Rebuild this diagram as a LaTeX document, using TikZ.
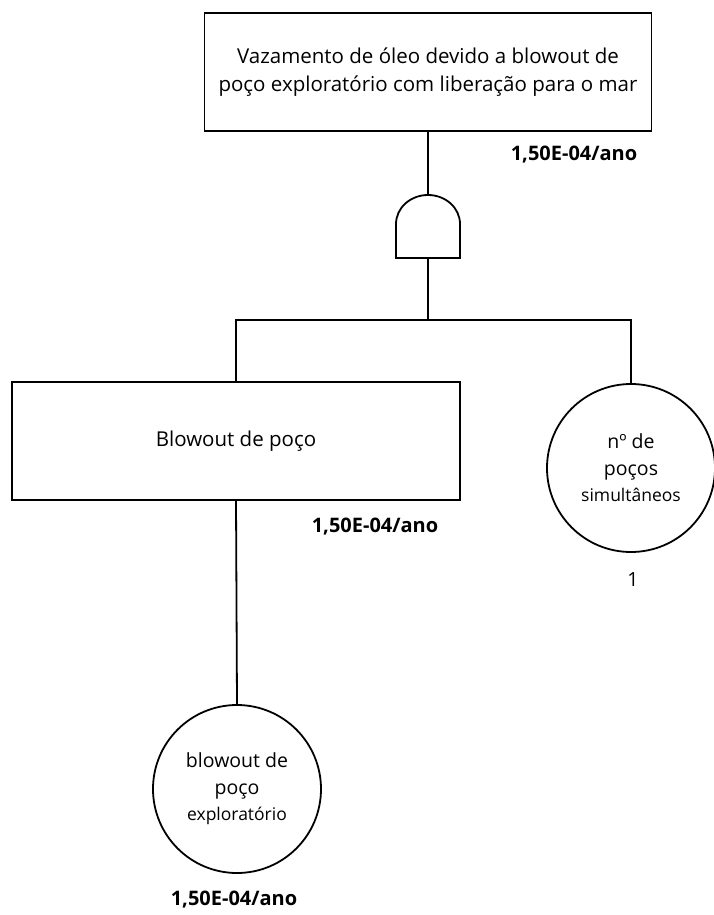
\documentclass[tikz,border=0pt]{standalone}
\usepackage{fontspec}
\setmainfont{Open Sans}
\usetikzlibrary{positioning}
\tikzset{%
  event/.style = {shape=rectangle, draw, align=center,%
                  minimum width=447pt, minimum height=118pt, inner sep=0pt,%
                  font=\fontsize{20.5}{28}\selectfont},%
  basic/.style = {shape=circle, draw, align=center,%
                  minimum size=168pt, inner sep=0pt,%
                  font=\fontsize{19.5}{26.5}\selectfont},%
  prob/.style  = {font=\fontsize{20}{22}\selectfont\bfseries}%
}
\newcommand{\smalltxt}[1]{{\fontsize{17.5}{26.5}\selectfont #1}}

\begin{document}
\begin{tikzpicture}[x=1pt,y=-1pt,line width=1.8pt]
	\useasboundingbox (0,0) rectangle (714,915);
	% top event
	\node [event] (spill) at (428,72) {Vazamento de óleo devido a blowout de\\
		poço exploratório com liberação para o mar};
	\node [prob] (pspill) at (574,155) {1,50E-04/ano};
	% AND gate
	\coordinate (gtop) at (428,195);
	\coordinate (gbot) at (428,258);
	\draw (396,258) -- (396,224)
		arc[start angle=180, end angle=0, x radius=32pt, y radius=29pt]
		-- (460,258) -- cycle;
	\coordinate (bar) at (428,320);
	% intermediate event and conditions
	\node [event,minimum width=448pt] (blow) at (236,441) {Blowout de poço};
	\node [prob] (pblow) at (375,527) {1,50E-04/ano};
	\node [basic] (nwell) at (631,468) {nº de\\ poços\\ \smalltxt{simultâneos}};
	\node (pnwell) at (633,580) {\fontsize{19.5}{22}\selectfont 1};
	\node [basic] (expl) at (237,789) {blowout de\\ poço\\ \smalltxt{exploratório}};
	\node [prob] (pexpl) at (234,900) {1,50E-04/ano};
	% connectors
	\draw (spill.south) -- (gtop);
	\draw (gbot) -- (bar);
	\draw (blow.north) |- (bar) -| (nwell.north);
	\draw (blow.south) -- (expl.north);
\end{tikzpicture}
\end{document}
